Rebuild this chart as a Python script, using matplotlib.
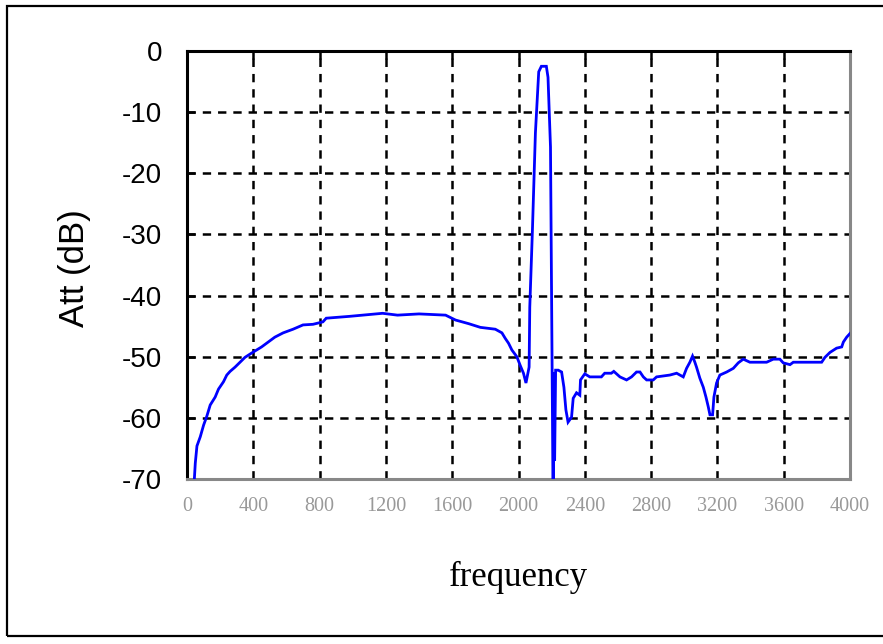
import matplotlib
matplotlib.use("Agg")
import matplotlib.pyplot as plt
from matplotlib.patches import Rectangle

freq = [40, 50, 60, 80, 100, 120, 140, 170, 190, 220, 240, 260, 290, 320, 350,
        390, 420, 450, 490, 530, 580, 640, 700, 760, 820, 840, 980, 1180, 1270,
        1400, 1560, 1620, 1700, 1770, 1860, 1900, 1920, 1940, 1960, 1990, 2010,
        2030, 2045, 2064, 2068, 2084, 2102, 2122, 2138, 2168, 2178, 2193, 2209,
        2214, 2218, 2224, 2240, 2260, 2274, 2286, 2299, 2320, 2330, 2350, 2370,
        2374, 2400, 2430, 2500, 2520, 2560, 2575, 2612, 2652, 2682, 2712, 2733,
        2753, 2773, 2813, 2833, 2913, 2954, 2994, 3014, 3034, 3050, 3064, 3074,
        3094, 3115, 3131, 3145, 3155, 3171, 3179, 3195, 3215, 3256, 3296, 3326,
        3356, 3396, 3497, 3537, 3577, 3597, 3638, 3658, 3829, 3849, 3879, 3919,
        3950, 3960, 3980, 4000]
att = [-72, -67.4, -64.6, -63.1, -61.2, -59.7, -57.9, -56.6, -55.3, -54.1, -53.0,
       -52.4, -51.7, -50.9, -50.1, -49.4, -48.9, -48.4, -47.6, -46.8, -46.1, -45.5,
       -44.8, -44.7, -44.3, -43.7, -43.4, -42.9, -43.2, -43.0, -43.2, -44.0, -44.6,
       -45.2, -45.5, -46.1, -47.0, -47.8, -48.9, -50.0, -51.4, -52.7, -54.3, -51.7,
       -41.9, -29.3, -13.4, -3.4, -2.5, -2.5, -4.3, -15.7, -75, -52.5, -67.0, -52.2,
       -52.2, -52.5, -55.0, -58.7, -60.7, -59.9, -56.8, -55.9, -56.3, -53.8, -52.8,
       -53.3, -53.3, -52.7, -52.7, -52.4, -53.3, -53.8, -53.3, -52.5, -52.5, -53.3,
       -53.8, -53.8, -53.3, -53.0, -52.7, -53.3, -51.9, -50.9, -49.9, -50.9, -51.7,
       -53.5, -55.0, -56.6, -58.2, -59.5, -59.5, -56.6, -54.3, -53.0, -52.5, -51.9,
       -51.0, -50.4, -50.9, -50.9, -50.4, -50.4, -51.0, -51.3, -50.9, -50.9, -50.1,
       -49.3, -48.6, -48.4, -47.6, -46.8, -46.2]

xticks = [0, 400, 800, 1200, 1600, 2000, 2400, 2800, 3200, 3600, 4000]
yticks = [0, -10, -20, -30, -40, -50, -60, -70]

plt.rcParams['lines.scale_dashes'] = False
sans = ['Liberation Sans Narrow', 'DejaVu Sans Condensed', 'Liberation Sans', 'DejaVu Sans']
serif = ['Liberation Serif', 'DejaVu Serif']

fig = plt.figure(figsize=(8.83, 6.44), dpi=100)
fig.patches.append(Rectangle((7 / 883, 1 - 636 / 644), 900 / 883, 630 / 644,
                             transform=fig.transFigure, fill=False,
                             edgecolor='black', linewidth=1.6))
ax = fig.add_axes([187 / 883, 1 - 479 / 644, 663 / 883, 428 / 644])

ax.plot(freq, att, color='#0000ff', linewidth=2.0, solid_joinstyle='miter', zorder=3)
ax.set_xlim(0, 4000)
ax.set_ylim(-70, 0)

ax.set_xticks(xticks)
ax.set_yticks(yticks)
ax.grid(True, color='black', linestyle=(0, (6, 5)), linewidth=1.8)

for s in ['left', 'top']:
    ax.spines[s].set_color('black')
    ax.spines[s].set_linewidth(2.2)
for s in ['right', 'bottom']:
    ax.spines[s].set_color('#888888')
    ax.spines[s].set_linewidth(2.2)

ax.tick_params(axis='x', which='both', bottom=False, top=True, direction='in',
               length=6, width=1.8, color='black', labelbottom=True, labeltop=False,
               pad=13, labelcolor='#999999')
ax.tick_params(axis='y', which='both', left=True, right=False, direction='in',
               length=6, width=1.8, color='black', pad=18)
ax.set_xticklabels([str(v) for v in xticks], family=serif, fontsize=14.5, color='#999999')
ax.set_yticklabels([str(v) for v in yticks], family=sans, fontsize=20)

ax.set_xlabel('frequency', family=serif, fontsize=25)
ax.xaxis.set_label_coords(0.5, -0.231)
ax.xaxis.label.set_va('center')
ax.set_ylabel('Att (dB)', family=sans, fontsize=25)
ax.yaxis.set_label_coords(-0.170, 0.493)
ax.yaxis.label.set_va('center')

fig.savefig('out.png', dpi=100)
